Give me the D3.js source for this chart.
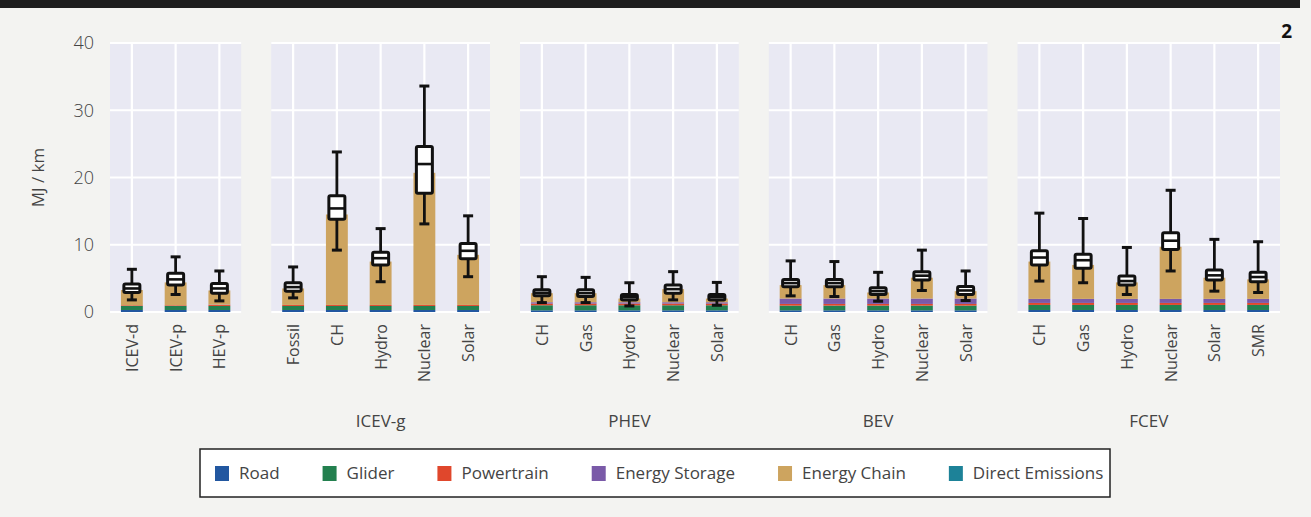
<!DOCTYPE html>
<html>
<head>
<meta charset="utf-8">
<script src="https://cdn.jsdelivr.net/npm/d3@7.9.0/dist/d3.min.js"></script>
<style>
  html, body { margin: 0; padding: 0; background: #f3f3f1; }
  svg { display: block; font-family: "Open Sans", sans-serif; }
</style>
</head>
<body>
<script>
// facets and their categories
const groups = ["", "ICEV-g", "PHEV", "BEV", "FCEV"];
const categories = [
  ["ICEV-d", "ICEV-p", "HEV-p"],
  ["Fossil", "CH", "Hydro", "Nuclear", "Solar"],
  ["CH", "Gas", "Hydro", "Nuclear", "Solar"],
  ["CH", "Gas", "Hydro", "Nuclear", "Solar"],
  ["CH", "Gas", "Hydro", "Nuclear", "Solar", "SMR"]
];

// stacked components, MJ/km, one value per bar (24 bars, facet order)
const components = ["Road", "Glider", "Powertrain", "Energy Storage", "Energy Chain", "Direct Emissions"];
const road       = [0.3, 0.3, 0.3,  0.3, 0.3, 0.3, 0.3, 0.3,  0.25, 0.25, 0.25, 0.25, 0.25,  0.25, 0.25, 0.25, 0.25, 0.25,  0.3, 0.3, 0.3, 0.3, 0.3, 0.3];
const glider     = [0.6, 0.6, 0.6,  0.6, 0.6, 0.6, 0.6, 0.6,  0.75, 0.75, 0.75, 0.75, 0.75,  0.7, 0.7, 0.7, 0.7, 0.7,  0.75, 0.75, 0.75, 0.75, 0.75, 0.75];
const powertrain = [0.1, 0.1, 0.15, 0.15, 0.15, 0.15, 0.15, 0.15,  0.25, 0.25, 0.25, 0.25, 0.25,  0.25, 0.25, 0.25, 0.25, 0.25,  0.3, 0.3, 0.3, 0.3, 0.3, 0.3];
const storage    = [0, 0, 0.05,  0, 0, 0, 0, 0,  0.2, 0.2, 0.2, 0.2, 0.2,  0.8, 0.8, 0.8, 0.8, 0.8,  0.6, 0.6, 0.6, 0.6, 0.6, 0.6];
const chain      = [2.27, 3.4, 2.1,  2.45, 13.45, 6.45, 19.65, 7.45,  1.35, 1.35, 0.55, 1.95, 0.55,  2.0, 2.0, 0.9, 3.1, 1.1,  5.55, 5.05, 2.45, 7.75, 3.15, 2.9];
const direct     = [0, 0, 0,  0, 0, 0, 0, 0,  0, 0, 0, 0, 0,  0, 0, 0, 0, 0,  0, 0, 0, 0, 0, 0];
const colors = ["#2257a0", "#23804f", "#e0472c", "#7a5aa8", "#cda45f", "#1d8298"];

// box plot statistics per bar
const whiskerLo = [1.8, 2.6, 1.65,  2.1, 9.2, 4.5, 13.1, 5.25,  1.4, 1.4, 0.9, 1.8, 1.0,  2.4, 2.3, 1.6, 3.2, 1.7,  4.6, 4.35, 2.6, 6.1, 3.1, 2.9];
const q1        = [2.9, 4.0, 2.8,  3.1, 13.8, 7.0, 17.65, 7.9,  2.4, 2.3, 1.8, 2.8, 1.8,  3.75, 3.75, 2.6, 4.75, 2.6,  7.0, 6.5, 4.0, 9.3, 4.75, 4.5];
const median    = [3.5, 4.85, 3.5,  3.7, 15.4, 8.0, 22.0, 9.1,  2.85, 2.8, 2.2, 3.4, 2.2,  4.3, 4.3, 3.1, 5.4, 3.2,  8.1, 7.7, 4.6, 10.6, 5.45, 5.2];
const q3        = [4.15, 5.75, 4.25,  4.35, 17.3, 8.9, 24.6, 10.2,  3.3, 3.3, 2.6, 4.0, 2.6,  4.85, 4.85, 3.6, 6.0, 3.8,  9.1, 8.6, 5.35, 11.8, 6.25, 5.9];
const whiskerHi = [6.35, 8.2, 6.1,  6.7, 23.8, 12.4, 33.6, 14.3,  5.25, 5.15, 4.35, 6.0, 4.4,  7.6, 7.5, 5.9, 9.2, 6.1,  14.7, 13.9, 9.6, 18.1, 10.8, 10.45];

const yTicks = [0, 10, 20, 30, 40];
const yLabel = "MJ / km";

const width = 1311, height = 517;
const slot = 43.75, gap = 30, left = 110;

const svg = d3.select("body").append("svg")
  .attr("width", width)
  .attr("height", height)
  .attr("viewBox", [0, 0, width, height]);

svg.append("rect").attr("width", width).attr("height", height).attr("fill", "#f3f3f1");
svg.append("rect").attr("x", 0).attr("y", 0).attr("width", 1300).attr("height", 8).attr("fill", "#1e1e1e");
svg.append("text").attr("x", 1292).attr("y", 38).attr("text-anchor", "end")
  .attr("font-size", 19).attr("font-weight", 700).attr("fill", "#111").text("2");

const y = d3.scaleLinear().domain([0, 40]).range([312, 43]);

// y axis
const yAxis = svg.append("g")
  .attr("transform", `translate(${left - 12},0)`)
  .call(d3.axisLeft(y).tickValues(yTicks).tickSize(0).tickPadding(4))
  .call(g => g.select(".domain").remove());
yAxis.selectAll("text").attr("font-size", 18).attr("fill", "#444")
  .attr("font-family", "Open Sans, sans-serif").attr("font-weight", 300);

svg.append("text")
  .attr("transform", `translate(44,${(y(0) + y(40)) / 2}) rotate(-90)`)
  .attr("text-anchor", "middle")
  .attr("font-size", 17).attr("fill", "#444").text(yLabel);

// panels
let x0 = left, idx = 0;
groups.forEach((grp, gi) => {
  const cats = categories[gi];
  const x1 = x0 + cats.length * slot;
  const x = d3.scaleBand().domain(cats).range([x0, x1]).paddingInner(0.5).paddingOuter(0.25);
  const rows = cats.map((c, i) => ({ cat: c, i: idx + i }));
  const panel = svg.append("g");

  panel.append("rect")
    .attr("x", x0).attr("y", y(40) - 1)
    .attr("width", x1 - x0).attr("height", y(0) - y(40) + 2)
    .attr("fill", "#e9e9f3");

  // grid lines
  panel.selectAll("line.hgrid").data(yTicks).join("line")
    .attr("x1", x0).attr("x2", x1)
    .attr("y1", d => y(d)).attr("y2", d => y(d))
    .attr("stroke", "#fff").attr("stroke-width", 2.2);
  panel.selectAll("line.vgrid").data(cats).join("line")
    .attr("x1", d => x(d) + x.bandwidth() / 2).attr("x2", d => x(d) + x.bandwidth() / 2)
    .attr("y1", y(40) - 1).attr("y2", y(0) + 1)
    .attr("stroke", "#fff").attr("stroke-width", 2.2);

  // stacked bars
  const table = rows.map(r => ({
    cat: r.cat,
    "Road": road[r.i], "Glider": glider[r.i], "Powertrain": powertrain[r.i],
    "Energy Storage": storage[r.i], "Energy Chain": chain[r.i], "Direct Emissions": direct[r.i]
  }));
  const stack = d3.stack().keys(components)(table);
  panel.selectAll("g.layer").data(stack).join("g")
    .attr("fill", (d, k) => colors[k])
    .selectAll("rect").data(d => d).join("rect")
      .attr("x", d => x(d.data.cat))
      .attr("width", x.bandwidth())
      .attr("y", d => y(d[1]))
      .attr("height", d => Math.max(0, y(d[0]) - y(d[1])));

  // box plots
  const bw = 16, cw = 10;
  const box = panel.selectAll("g.box").data(rows).join("g")
    .attr("transform", d => `translate(${x(d.cat) + x.bandwidth() / 2},0)`);
  box.append("line")
    .attr("y1", d => y(whiskerLo[d.i])).attr("y2", d => y(whiskerHi[d.i]))
    .attr("stroke", "#111").attr("stroke-width", 2.8);
  box.append("line").attr("x1", -cw / 2).attr("x2", cw / 2)
    .attr("y1", d => y(whiskerHi[d.i])).attr("y2", d => y(whiskerHi[d.i]))
    .attr("stroke", "#111").attr("stroke-width", 3);
  box.append("line").attr("x1", -cw / 2).attr("x2", cw / 2)
    .attr("y1", d => y(whiskerLo[d.i])).attr("y2", d => y(whiskerLo[d.i]))
    .attr("stroke", "#111").attr("stroke-width", 3);
  box.append("rect")
    .attr("x", -bw / 2).attr("width", bw)
    .attr("y", d => y(q3[d.i])).attr("height", d => y(q1[d.i]) - y(q3[d.i]))
    .attr("fill", "#fff").attr("stroke", "#111").attr("stroke-width", 3)
    .attr("rx", 1.5);
  box.append("line").attr("x1", -bw / 2).attr("x2", bw / 2)
    .attr("y1", d => y(median[d.i])).attr("y2", d => y(median[d.i]))
    .attr("stroke", "#111").attr("stroke-width", 2.6);

  // x labels
  panel.selectAll("text.xl").data(cats).join("text")
    .attr("transform", d => `translate(${x(d) + x.bandwidth() / 2 + 6},324) rotate(-90)`)
    .attr("text-anchor", "end")
    .attr("font-size", 16).attr("fill", "#444").text(d => d);

  // facet label
  panel.append("text")
    .attr("x", (x0 + x1) / 2).attr("y", 427)
    .attr("text-anchor", "middle")
    .attr("font-size", 17).attr("fill", "#444").text(grp);

  idx += cats.length;
  x0 = x1 + gap;
});

// legend
const legend = svg.append("g");
legend.append("rect").attr("x", 200).attr("y", 449).attr("width", 910).attr("height", 48)
  .attr("fill", "#fff").attr("stroke", "#222").attr("stroke-width", 1.5);
let lx = 215;
components.forEach((c, k) => {
  legend.append("rect").attr("x", lx).attr("y", 466).attr("width", 14).attr("height", 15).attr("fill", colors[k]);
  const t = legend.append("text").attr("x", lx + 24).attr("y", 479)
    .attr("font-size", 17).attr("fill", "#444").text(c);
  lx += 24 + t.node().getComputedTextLength() + 43;
});
</script>
</body>
</html>
